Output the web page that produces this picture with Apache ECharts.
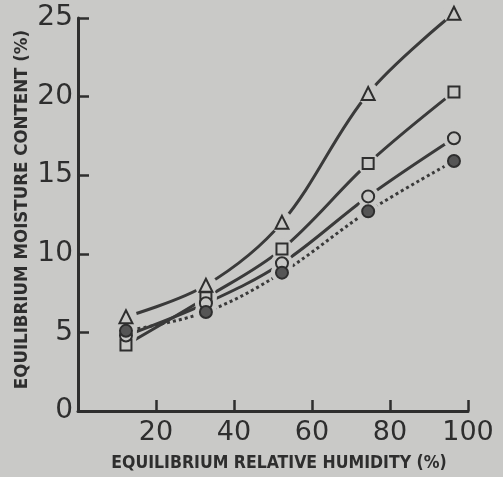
<!DOCTYPE html>
<html>
<head>
<meta charset="utf-8">
<script src="https://cdn.jsdelivr.net/npm/echarts@6/dist/echarts.min.js"></script>
<style>
  html, body { margin: 0; padding: 0; background: #c9c9c7; }
  #chart { width: 503px; height: 477px; }
</style>
</head>
<body>
<div id="chart"></div>
<script>
// relative humidity (%) where the samples were measured
const humidity = [12.3, 32.8, 52.3, 74.4, 96.4]
// equilibrium moisture content (%) for each curve
const triangleEmc = [6.0, 8.0, 12.0, 20.2, 25.3]
const squareEmc = [4.2, 7.2, 10.3, 15.75, 20.3]
const openCircleEmc = [4.8, 6.85, 9.4, 13.65, 17.35]
const filledCircleEmc = [5.1, 6.3, 8.8, 12.7, 15.9]
const xTicks = [0, 20, 40, 60, 80, 100]
const yTicks = [0, 5, 10, 15, 20, 25]

const bg = '#c9c9c7'
const ink = '#2e2e2e'
const nameFont = '"DejaVu Sans Condensed", "Liberation Sans Narrow", sans-serif'
const tickFont = '"DejaVu Sans", sans-serif'

const curves = [
  { values: triangleEmc, symbol: 'triangle', size: 13, fill: bg, dotted: false },
  { values: squareEmc, symbol: 'rect', size: 11, fill: bg, dotted: false },
  { values: openCircleEmc, symbol: 'circle', size: 12, fill: bg, dotted: false },
  { values: filledCircleEmc, symbol: 'circle', size: 12, fill: '#555', dotted: true }
]

const pairs = vals => humidity.map((h, i) => [h, vals[i]])

let series = []
curves.forEach(c => {
  // the curve itself
  series.push({
    type: 'line',
    data: pairs(c.values),
    smooth: 0.35,
    showSymbol: false,
    clip: false,
    z: 2,
    lineStyle: { color: '#3a3a3a', width: 3, type: c.dotted ? [3, 3] : 'solid', cap: 'butt' }
  })
})
curves.forEach(c => {
  // background halo so the curve stops short of the marker
  series.push({
    type: 'scatter',
    data: pairs(c.values),
    symbol: 'circle',
    symbolSize: 22,
    clip: false,
    z: 3,
    itemStyle: { color: bg, opacity: 1 },
    silent: true
  })
})
curves.forEach(c => {
  series.push({
    type: 'scatter',
    data: pairs(c.values),
    symbol: c.symbol,
    symbolSize: c.size,
    clip: false,
    z: 4,
    itemStyle: { color: c.fill, borderColor: ink, borderWidth: 2, opacity: 1 }
  })
})

const chart = echarts.init(document.getElementById('chart'))
chart.setOption({
  backgroundColor: bg,
  animation: false,
  grid: { left: 78, right: 35, top: 18, bottom: 66 },
  xAxis: {
    type: 'value',
    min: xTicks[0],
    max: xTicks[xTicks.length - 1],
    interval: 20,
    name: 'EQUILIBRIUM RELATIVE HUMIDITY (%)',
    nameLocation: 'middle',
    nameGap: 43,
    nameMoveOverlap: false,
    nameTextStyle: { color: ink, fontSize: 17.5, fontWeight: 'bold', fontFamily: nameFont, padding: [0, 0, 0, 12] },
    axisLine: { lineStyle: { color: ink, width: 3 } },
    axisTick: { inside: true, length: 11, lineStyle: { color: ink, width: 2.5 } },
    axisLabel: { showMinLabel: false, color: ink, fontSize: 27, margin: 8, fontFamily: tickFont },
    splitLine: { show: false }
  },
  yAxis: {
    type: 'value',
    min: yTicks[0],
    max: yTicks[yTicks.length - 1],
    interval: 5,
    name: 'EQUILIBRIUM MOISTURE CONTENT (%)',
    nameLocation: 'middle',
    nameGap: 46,
    nameMoveOverlap: false,
    nameTextStyle: { color: ink, fontSize: 18.5, fontWeight: 'bold', fontFamily: nameFont, padding: [0, 0, 0, 10] },
    axisLine: { lineStyle: { color: ink, width: 3 } },
    axisTick: { inside: true, length: 11, lineStyle: { color: ink, width: 2.5 } },
    axisLabel: { color: ink, fontSize: 28, margin: 5, fontFamily: tickFont },
    splitLine: { show: false }
  },
  series: series
})
</script>
</body>
</html>
